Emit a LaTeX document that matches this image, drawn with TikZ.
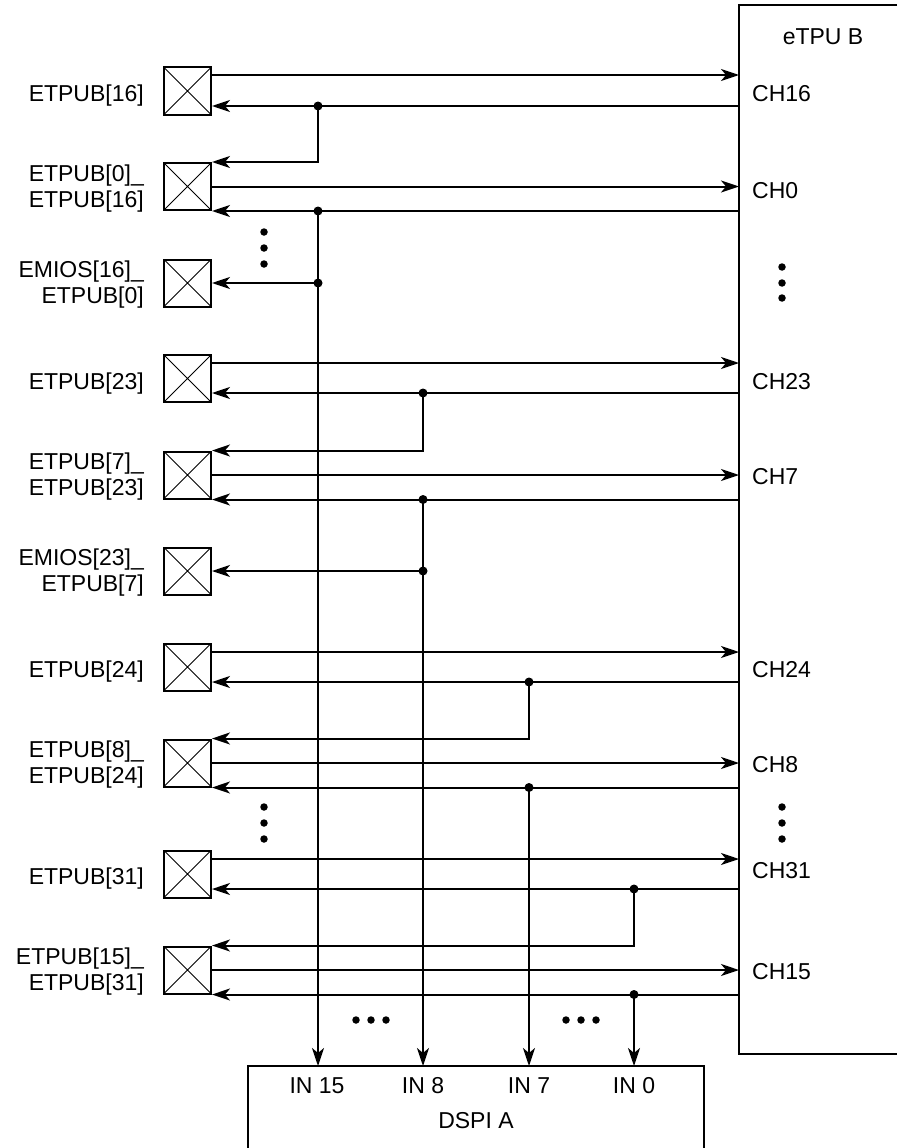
\documentclass[tikz,border=0pt]{standalone}
\usepackage{fontspec}
\setmainfont{Liberation Sans}
\usetikzlibrary{arrows.meta}
\begin{document}
\begin{tikzpicture}[x=1pt,y=-1pt,
  wire/.style={line width=2pt},
  sig/.style={line width=2pt,-{Stealth[length=18pt,width=12pt,inset=5pt]}},
  pad/.style={draw,line width=2pt,minimum size=47pt,inner sep=0pt,
    path picture={\draw[line width=0.9pt]
      (path picture bounding box.south west)--(path picture bounding box.north east)
      (path picture bounding box.north west)--(path picture bounding box.south east);}},
  lbl/.style={font=\fontsize{23}{26}\selectfont,inner sep=0pt,align=right,anchor=east},
  chl/.style={font=\fontsize{23}{26}\selectfont,inner sep=0pt,anchor=west},
  txt/.style={font=\fontsize{23}{26}\selectfont,inner sep=0pt},
  jdot/.style={circle,fill,inner sep=0pt,minimum size=9pt},
  edot/.style={circle,fill,inner sep=0pt,minimum size=7.5pt}]
\useasboundingbox (0,0) rectangle (897,1148);

% eTPU B block (right side, cut off by the page)
\coordinate (E) at (739,5);
\draw[wire] (897,5) -- (E) -- (739,1054) -- (897,1054);
\node[txt] (etpu) at (823,37) {eTPU B};

% DSPI A block (bottom, cut off by the page)
\coordinate (D) at (248,1066);
\draw[wire] (248,1148) -- (D) -- (704,1066) -- (704,1148);
\coordinate (in15) at (318,1066);
\coordinate (in8) at (423,1066);
\coordinate (in7) at (529,1066);
\coordinate (in0) at (634,1066);
\node[txt] (lin15) at (317,1086) {IN 15};
\node[txt] (lin8) at (423,1086) {IN 8};
\node[txt] (lin7) at (529,1086) {IN 7};
\node[txt] (lin0) at (634,1086) {IN 0};
\node[txt] (dspi) at (476,1121) {DSPI A};

% pads
\node[pad] (p1) at (187.5,91) {};
\node[pad] (p2) at (187.5,186.5) {};
\node[pad] (p3) at (187.5,283) {};
\node[pad] (p4) at (187.5,378.5) {};
\node[pad] (p5) at (187.5,475) {};
\node[pad] (p6) at (187.5,571) {};
\node[pad] (p7) at (187.5,667) {};
\node[pad] (p8) at (187.5,763) {};
\node[pad] (p9) at (187.5,874) {};
\node[pad] (p10) at (187.5,970) {};

% pad labels
\node[lbl] (l1) at (144,96) {ETPUB[16]};
\node[lbl] (l2) at (144,188.5) {ETPUB[0]\_\\ETPUB[16]};
\node[lbl] (l3) at (144,285) {EMIOS[16]\_\\ETPUB[0]};
\node[lbl] (l4) at (144,383.5) {ETPUB[23]};
\node[lbl] (l5) at (144,477) {ETPUB[7]\_\\ETPUB[23]};
\node[lbl] (l6) at (144,573) {EMIOS[23]\_\\ETPUB[7]};
\node[lbl] (l7) at (144,672) {ETPUB[24]};
\node[lbl] (l8) at (144,765) {ETPUB[8]\_\\ETPUB[24]};
\node[lbl] (l9) at (144,879) {ETPUB[31]};
\node[lbl] (l10) at (144,972) {ETPUB[15]\_\\ETPUB[31]};

% channel labels
\node[chl] (ch16) at (752,94) {CH16};
\node[chl] (ch0) at (752,191) {CH0};
\node[chl] (ch23) at (752,382) {CH23};
\node[chl] (ch7) at (752,477) {CH7};
\node[chl] (ch24) at (752,670) {CH24};
\node[chl] (ch8) at (752,765) {CH8};
\node[chl] (ch31) at (752,871) {CH31};
\node[chl] (ch15) at (752,972) {CH15};

% ---- group 1 (IN 15) ----
\coordinate (c16o) at (739,75);
\coordinate (c16i) at (739,106);
\draw[sig] (p1.east |- c16o) -- (c16o);
\draw[sig] (c16i) -- (p1.east |- c16i);
\node[jdot] (j1) at (318,106) {};
\draw[sig] (j1.center) -- (j1.center |- p2.north) -- (p2.north east);
\draw[sig] (p2.east) -- (E |- p2.east);
\draw[sig] (E |- p2.south) -- (p2.south east);
\node[jdot] (j2) at (in15 |- p2.south) {};
\node[jdot] (j3) at (in15 |- p3.east) {};
\draw[sig] (j3.center) -- (p3.east);
\draw[sig] (j2.center) -- (in15);

% ---- group 2 (IN 8) ----
\coordinate (c23o) at (739,363);
\coordinate (c23i) at (739,393);
\draw[sig] (p4.east |- c23o) -- (c23o);
\draw[sig] (c23i) -- (p4.east |- c23i);
\node[jdot] (j4) at (423,393) {};
\draw[sig] (j4.center) -- (j4.center |- p5.north) -- (p5.north east);
\draw[sig] (p5.east) -- (E |- p5.east);
\draw[sig] (E |- p5.south) -- (p5.south east);
\node[jdot] (j5) at (in8 |- p5.south) {};
\node[jdot] (j6) at (in8 |- p6.east) {};
\draw[sig] (j6.center) -- (p6.east);
\draw[sig] (j5.center) -- (in8);

% ---- group 3 (IN 7) ----
\coordinate (c24o) at (739,652);
\coordinate (c24i) at (739,682);
\draw[sig] (p7.east |- c24o) -- (c24o);
\draw[sig] (c24i) -- (p7.east |- c24i);
\node[jdot] (j7) at (529,682) {};
\draw[sig] (j7.center) -- (j7.center |- p8.north) -- (p8.north east);
\draw[sig] (p8.east) -- (E |- p8.east);
\draw[sig] (E |- p8.south) -- (p8.south east);
\node[jdot] (j8) at (in7 |- p8.south) {};
\draw[sig] (j8.center) -- (in7);

% ---- group 4 (IN 0) ----
\coordinate (c31o) at (739,859);
\coordinate (c31i) at (739,889);
\draw[sig] (p9.east |- c31o) -- (c31o);
\draw[sig] (c31i) -- (p9.east |- c31i);
\node[jdot] (j9) at (634,889) {};
\draw[sig] (j9.center) -- (j9.center |- p10.north) -- (p10.north east);
\draw[sig] (p10.east) -- (E |- p10.east);
\draw[sig] (E |- p10.south) -- (p10.south east);
\node[jdot] (j10) at (in0 |- p10.south) {};
\draw[sig] (j10.center) -- (in0);

% ellipsis dots
\foreach \y in {232,248,264,807,823,839} \node[edot] at (264,\y) {};
\foreach \y in {267,283,298,807,823,839} \node[edot] at (782,\y) {};
\foreach \x in {356,371,386,566,581,596} \node[edot] at (\x,1020) {};
\end{tikzpicture}
\end{document}
